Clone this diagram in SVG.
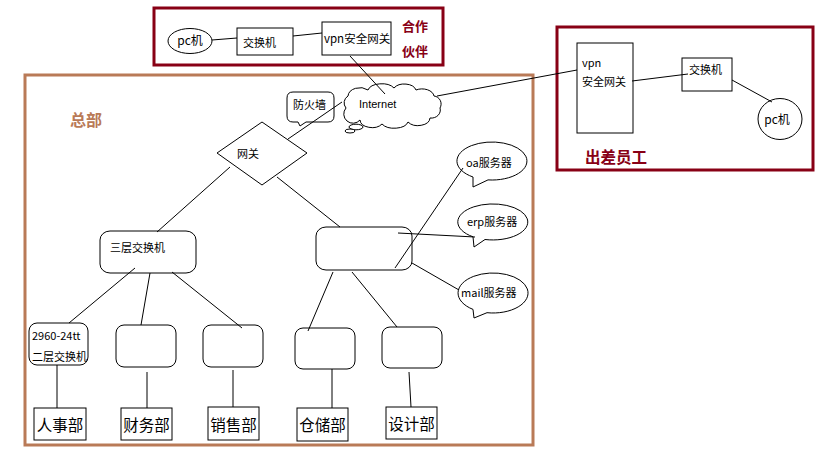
<svg xmlns="http://www.w3.org/2000/svg" width="819" height="460" viewBox="0 0 819 460">
<style>
text{font-family:"Noto Sans CJK SC","Liberation Sans",sans-serif;fill:#000;font-size:11px}
.shape{fill:#fff;stroke:#000;stroke-width:1}
.red{fill:none;stroke:#880015;stroke-width:3}
.brown{fill:none;stroke:#B97A57;stroke-width:3}
.lbl-red{fill:#880015;font-weight:bold;font-size:13px}
.big{font-size:15.5px}
.conn line{stroke:#000;stroke-width:1}
</style>
<rect width="819" height="460" fill="#fff"/>

<g id="partner">
<rect class="red" x="154" y="8" width="289" height="57"/>
<text class="lbl-red" x="402" y="31">合作</text>
<text class="lbl-red" x="402" y="56">伙伴</text>
</g>
<g id="partner-pc"><ellipse class="shape" cx="190" cy="41" rx="22" ry="12.5"/><text x="190" y="45" text-anchor="middle" style="font-size:12px">pc机</text></g>
<g id="partner-switch"><rect class="shape" x="237" y="28" width="56" height="27"/><text x="243" y="47">交换机</text></g>
<g id="partner-vpn"><rect class="shape" x="322" y="22" width="69" height="33"/><text x="324" y="43" style="font-size:11.5px">vpn安全网关</text></g>

<g id="hq">
<rect class="brown" x="25" y="75" width="508" height="370"/>
<text x="70" y="126" style="fill:#B97A57;font-weight:bold;font-size:16px">总部</text>
</g>

<g id="travel">
<rect class="red" x="557" y="27" width="256" height="143"/>
<text class="lbl-red" x="585" y="163" style="font-size:15.5px">出差员工</text>
</g>
<g id="travel-vpn"><rect class="shape" x="577" y="43" width="56" height="90"/><text x="582" y="67">vpn</text><text x="582" y="86">安全网关</text></g>
<g id="travel-switch"><rect class="shape" x="682" y="58" width="50" height="33"/><text x="689" y="74">交换机</text></g>
<g id="travel-pc"><ellipse class="shape" cx="780" cy="119" rx="22" ry="20.5"/><text x="777" y="124" text-anchor="middle" style="font-size:12px">pc机</text></g>

<g id="firewall"><path class="shape" d="M293,92 H328 Q334,92 334,98 V116 Q334,122 328,122 H306 L300,126 L298,122 H293 Q287,122 287,116 V98 Q287,92 293,92 Z"/><text x="293" y="109">防火墙</text></g>

<g id="internet">
<path class="shape" d="M346,108 a8,8 0 0 1 2,-12 a12,9 0 0 1 20,-6 a14,8 0 0 1 26,-2 a12,8 0 0 1 22,2 a12,8 0 0 1 18,6 a8,8 0 0 1 6,12 a9,8 0 0 1 -10,10 a12,8 0 0 1 -22,4 a14,8 0 0 1 -26,2 a12,8 0 0 1 -22,-4 a8,8 0 0 1 -14,-12 Z"/>
<ellipse class="shape" cx="356" cy="127" rx="7" ry="2.8"/>
<ellipse class="shape" cx="350" cy="131" rx="5" ry="2"/>
<text x="359" y="108" style="font-family:'Liberation Sans',sans-serif">Internet</text>
</g>

<g id="gateway"><polygon class="shape" points="217,153 262,122 307,153 262,185"/><text x="237" y="158">网关</text></g>

<g id="l3switch"><rect class="shape" x="100" y="231" width="96" height="42" rx="10" ry="9"/><text x="110" y="252">三层交换机</text></g>
<g id="core2"><rect class="shape" x="316" y="227" width="96" height="43" rx="10" ry="9"/></g>

<g id="oa"><path class="shape" d="M488,179.9 A35,19 0 1 0 473,177 L473,187 Z"/><text x="466" y="167">oa服务器</text></g>
<g id="erp"><path class="shape" d="M485,239.5 A35,18 0 1 0 473,236.8 L474,247 Z"/><text x="467" y="226">erp服务器</text></g>
<g id="mail"><path class="shape" d="M487,312.7 A35,20 0 1 0 473,309.4 L474,318 Z"/><text x="461" y="297">mail服务器</text></g>

<g id="sw-hr"><rect class="shape" x="29" y="323" width="59" height="42" rx="8" ry="8"/><text x="32" y="340">2960-24tt</text><text x="32" y="361">二层交换机</text></g>
<g id="sw-fin"><rect class="shape" x="116" y="325" width="60" height="42" rx="8" ry="8"/></g>
<g id="sw-sales"><rect class="shape" x="203" y="325" width="60" height="42" rx="8" ry="8"/></g>
<g id="sw-store"><rect class="shape" x="295" y="328" width="60" height="41" rx="8" ry="8"/></g>
<g id="sw-design"><rect class="shape" x="382" y="327" width="60" height="41" rx="8" ry="8"/></g>

<g id="hr"><rect class="shape" x="34" y="408" width="52" height="32"/><text class="big" x="60" y="431" text-anchor="middle">人事部</text></g>
<g id="fin"><rect class="shape" x="121" y="408" width="51" height="32"/><text class="big" x="146.5" y="431" text-anchor="middle">财务部</text></g>
<g id="sales"><rect class="shape" x="208" y="407" width="51" height="33"/><text class="big" x="233.5" y="431" text-anchor="middle">销售部</text></g>
<g id="store"><rect class="shape" x="297" y="408" width="51" height="33"/><text class="big" x="322.5" y="431" text-anchor="middle">仓储部</text></g>
<g id="design"><rect class="shape" x="386" y="407" width="51" height="32"/><text class="big" x="411.5" y="430" text-anchor="middle">设计部</text></g>

<g class="conn" id="connectors">
<line x1="212" y1="40" x2="237" y2="38"/>
<line x1="293" y1="36" x2="322" y2="33"/>
<line x1="350" y1="56" x2="385" y2="94"/>
<line x1="288" y1="139" x2="342" y2="102"/>
<line x1="437" y1="96" x2="577" y2="70"/>
<line x1="632" y1="81" x2="688" y2="74"/>
<line x1="732" y1="80" x2="772" y2="102"/>
<line x1="230" y1="167" x2="157" y2="232"/>
<line x1="277" y1="177" x2="340" y2="227"/>
<line x1="395" y1="268" x2="463" y2="168"/>
<line x1="398" y1="233" x2="475" y2="237"/>
<line x1="412" y1="263" x2="459" y2="290"/>
<line x1="135" y1="268" x2="69" y2="323"/>
<line x1="150" y1="273" x2="141" y2="325"/>
<line x1="172" y1="272" x2="242" y2="328"/>
<line x1="333" y1="272" x2="308" y2="331"/>
<line x1="352" y1="272" x2="397" y2="327"/>
<line x1="57" y1="365" x2="57" y2="408"/>
<line x1="147" y1="372" x2="147" y2="408"/>
<line x1="233" y1="370" x2="233" y2="407"/>
<line x1="332" y1="369" x2="332" y2="408"/>
<line x1="409" y1="372" x2="411" y2="407"/>
</g>
</svg>
